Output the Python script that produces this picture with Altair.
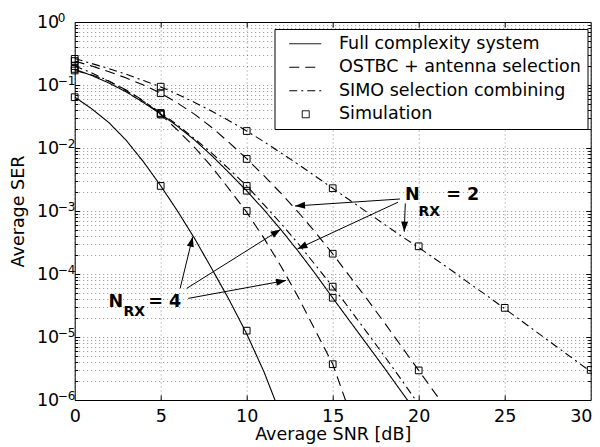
import math
import altair as alt
import pandas as pd

W, H = 516, 378

# ---------------- data ----------------
snr_db = list(range(0, 31))

# log10(SER) of the analytical curves at 1 dB steps
n4_full_log = [-1.19, -1.38, -1.60, -1.88, -2.22, -2.60, -3.01, -3.45, -3.93, -4.42,
               -4.95, -5.55, -6.25]
n4_ostbc_log = [-0.77, -0.84, -0.94, -1.08, -1.25, -1.47, -1.72, -2.00, -2.31, -2.66,
                -3.02, -3.43, -3.88, -4.37, -4.90, -5.43, -6.20]
n4_simo_log = [-0.70, -0.81, -0.94, -1.09, -1.26, -1.44, -1.64, -1.86, -2.09, -2.34,
               -2.60, -2.90, -3.20, -3.52, -3.86, -4.20, -4.56, -4.93, -5.30, -5.68,
               -6.07]
n2_full_log = [-0.75, -0.85, -0.97, -1.11, -1.28, -1.46, -1.66, -1.88, -2.13, -2.40,
               -2.68, -2.98, -3.30, -3.64, -4.00, -4.38, -4.75, -5.12, -5.49, -5.87,
               -6.25]
n2_ostbc_log = [-0.62, -0.70, -0.79, -0.89, -1.00, -1.13, -1.29, -1.47, -1.68, -1.92,
                -2.17, -2.44, -2.72, -3.02, -3.34, -3.68, -4.04, -4.40, -4.77, -5.15,
                -5.53, -5.91, -6.29]
n2_simo_log = [-0.58, -0.66, -0.74, -0.83, -0.93, -1.03, -1.15, -1.28, -1.42, -1.57,
               -1.73, -1.90, -2.08, -2.26, -2.45, -2.64, -2.83, -3.02, -3.21, -3.40,
               -3.58, -3.77, -3.96, -4.16, -4.35, -4.55, -4.75, -4.95, -5.15, -5.35,
               -5.55]

# simulation points (SER) at 0, 5, 10, ... dB
sim_snr = [0, 5, 10, 15, 20, 25, 30]
n4_full_sim = [0.064, 2.5e-3, 1.26e-5]
n4_ostbc_sim = [0.17, 0.034, 1.0e-3, 3.7e-6]
n4_simo_sim = [0.20, 0.036, 2.5e-3, 6.3e-5]
n2_full_sim = [0.18, 0.035, 2.1e-3, 4.2e-5]
n2_ostbc_sim = [0.24, 0.074, 6.7e-3, 2.1e-4, 2.95e-6]
n2_simo_sim = [0.26, 0.094, 0.0186, 2.3e-3, 2.75e-4, 2.9e-5, 3.0e-6]

styles = ["Full complexity system", "OSTBC + antenna selection",
          "SIMO selection combining", "Simulation"]

# axis ticks / labels
x_ticks = [0, 5, 10, 15, 20, 25, 30]
y_major = [1e-6, 1e-5, 1e-4, 1e-3, 1e-2, 1e-1, 1e0]
y_exp_labels = ["\u22126", "\u22125", "\u22124", "\u22123", "\u22122", "\u22121", "0"]
y_minor = [m * 10.0 ** k for k in range(-6, 0) for m in range(2, 10)]

# annotations (x in dB, y as SER)
arrow_x0 = [18.91, 18.80, 19.22, 6.13, 6.51, 6.60]
arrow_ser0 = [1.55e-3, 1.38e-3, 1.32e-3, 5.9e-5, 5.9e-5, 4.1e-5]
arrow_x1 = [12.81, 12.95, 19.16, 6.86, 11.97, 12.29]
arrow_ser1 = [1.2e-3, 2.5e-4, 4.7e-4, 3.9e-4, 5.1e-4, 7.9e-5]

big_text = ["N", "= 2", "N", "= 4"]
big_x = [19.2, 21.6, 1.97, 4.28]
big_ser = [1.8e-3, 1.8e-3, 3.6e-5, 3.6e-5]
sub_text = ["RX", "RX"]
sub_x = [19.99, 2.84]
sub_ser = [9.6e-4, 2.5e-5]

# ---------------- tables ----------------
curve_defs = [("n4_full", styles[0], n4_full_log), ("n4_ostbc", styles[1], n4_ostbc_log),
              ("n4_simo", styles[2], n4_simo_log), ("n2_full", styles[0], n2_full_log),
              ("n2_ostbc", styles[1], n2_ostbc_log), ("n2_simo", styles[2], n2_simo_log)]
rows = []
for cid, st, logs in curve_defs:
    for x, lv in zip(snr_db, logs):
        rows.append({"snr": x, "ser": 10 ** lv, "curve": cid, "style": st})
lines_df = pd.DataFrame(rows)

sim_defs = [("n4_full", n4_full_sim), ("n4_ostbc", n4_ostbc_sim), ("n4_simo", n4_simo_sim),
            ("n2_full", n2_full_sim), ("n2_ostbc", n2_ostbc_sim), ("n2_simo", n2_simo_sim)]
srows = []
for cid, vals in sim_defs:
    for x, v in zip(sim_snr, vals):
        srows.append({"snr": x, "ser": v, "curve": cid, "style": "Simulation"})
sims_df = pd.DataFrame(srows)

legend_df = pd.DataFrame({"snr": [1.0] * 4, "ser": [0.1] * 4, "style": styles})


def to_px(x, ser):
    return x / 30 * W, -math.log10(ser) / 6 * H


angles = []
for a, b, c, d in zip(arrow_x0, arrow_ser0, arrow_x1, arrow_ser1):
    p0, p1 = to_px(a, b), to_px(c, d)
    angles.append(math.degrees(math.atan2(p1[1] - p0[1], p1[0] - p0[0])) % 360)
arrows_df = pd.DataFrame({"x0": arrow_x0, "y0": arrow_ser0, "x1": arrow_x1,
                          "y1": arrow_ser1, "ang": angles})
big_df = pd.DataFrame({"x": big_x, "y": big_ser, "t": big_text})
sub_df = pd.DataFrame({"x": sub_x, "y": sub_ser, "t": sub_text})

# ---------------- styling ----------------
FONT = "DejaVu Sans"
FS = 17.5
xscale = alt.Scale(domain=[0, 30], nice=False, zero=False)
yscale = alt.Scale(type="log", domain=[1e-6, 1], nice=False)
dash_scale = alt.Scale(domain=styles, range=[[1, 0], [10, 6], [8, 4, 2, 4], [1, 0]])
shape_scale = alt.Scale(domain=styles, range=["M0,0H8", "M0,0H8", "M0,0H8",
                                              "M3.25,-0.875H5V0.875H3.25Z"])
legend = alt.Legend(title=None, orient="none", legendX=199.8, legendY=7, padding=6,
                    rowPadding=4.5, labelOffset=41, labelFont=FONT, labelFontSize=FS,
                    labelColor="black", labelLimit=500, symbolSize=64,
                    symbolStrokeWidth=1, symbolStrokeColor="black",
                    symbolFillColor="transparent", strokeColor="black",
                    fillColor="white", cornerRadius=0)

grid_kw = dict(grid=True, gridDash=[1, 3], gridColor="#000", gridOpacity=0.45,
               gridWidth=1)
last_x = x_ticks[-1]
x_main_axis = alt.Axis(values=x_ticks, title="Average SNR [dB]", ticks=False, tickSize=0,
                       labelExpr="datum.value == %d ? '' : datum.label" % last_x,
                       domain=False, labelPadding=7, labelFont=FONT, labelFontSize=FS,
                       labelColor="black", labelFlush=False, labelOverlap=False,
                       titleFont=FONT, titleFontSize=FS, titleFontWeight="normal",
                       titleColor="black", titlePadding=1, format="d", **grid_kw)
# last x label kept inside the page: right-aligned on its tick
x_last_axis = alt.Axis(orient="bottom", values=[last_x], title=None, ticks=False,
                       tickSize=0, domain=False, grid=False, labelPadding=7,
                       labelAlign="right", labelOffset=1.3, labelFont=FONT,
                       labelFontSize=FS, labelColor="black", labelFlush=False,
                       labelOverlap=False, labelBound=False, format="d")
y_main_axis = alt.Axis(values=sorted(y_major + y_minor),
                       labelExpr="abs(log(datum.value)/LN10 - round(log(datum.value)/LN10)) < 1e-6 ? '10' : ''",
                       title="Average SER", ticks=False, tickSize=0, domain=False,
                       labelPadding=16, labelFont=FONT, labelFontSize=FS,
                       labelColor="black", labelFlush=False, labelOverlap=False,
                       titleFont=FONT, titleFontSize=FS, titleFontWeight="normal",
                       titleColor="black", titlePadding=9, **grid_kw)

exp_list = "[" + ",".join("'%s'" % s for s in y_exp_labels) + "]"
y_exp_axis = alt.Axis(orient="left", values=y_major,
                      labelExpr=exp_list + "[round(log(datum.value)/LN10)+6]",
                      labelAlign="left", labelPadding=17.5, labelOffset=-5,
                      labelFont=FONT, labelFontSize=12, labelColor="black",
                      ticks=False, tickSize=0, domain=False, grid=False, title=None,
                      labelFlush=False, labelOverlap=False, labelBound=False)

# ---------------- layers ----------------
lines = alt.Chart(lines_df).mark_line(color="black", strokeWidth=1.1, clip=True).encode(
    x=alt.X("snr:Q", scale=xscale, axis=x_main_axis),
    y=alt.Y("ser:Q", scale=yscale, axis=y_main_axis),
    detail="curve:N",
    strokeDash=alt.StrokeDash("style:N", scale=dash_scale, legend=legend),
)

sims = alt.Chart(sims_df).mark_point(shape="square", filled=False, size=45, color="black",
                                     strokeWidth=1, opacity=1).encode(
    x=alt.X("snr:Q", scale=xscale, axis=None),
    y=alt.Y("ser:Q", scale=yscale, axis=None),
)

legend_layer = alt.Chart(legend_df).transform_filter("false").mark_point(
    filled=False, size=64, color="black", strokeWidth=1, opacity=1).encode(
    x=alt.X("snr:Q", scale=xscale, axis=None),
    y=alt.Y("ser:Q", scale=yscale, axis=None),
    shape=alt.Shape("style:N", scale=shape_scale, legend=legend),
    strokeDash=alt.StrokeDash("style:N", scale=dash_scale, legend=legend),
)

exp_layer = alt.Chart(sims_df).transform_filter("false").mark_point().encode(
    x=alt.X("snr:Q", scale=xscale, axis=x_last_axis),
    y=alt.Y("ser:Q", scale=yscale, axis=y_exp_axis),
)


def tick_layer(channel, orient, values, size):
    ax = alt.Axis(orient=orient, values=values, offset=-size, tickSize=size, ticks=True,
                  tickColor="black", tickWidth=1, labels=False, domain=False,
                  grid=False, title=None)
    return alt.Chart(sims_df).transform_filter("false").mark_point().encode(
        x=alt.X("snr:Q", scale=xscale, axis=ax if channel == "x" else None),
        y=alt.Y("ser:Q", scale=yscale, axis=ax if channel == "y" else None),
    )


tick_layers = [
    tick_layer("x", "bottom", x_ticks[1:-1], 5),
    tick_layer("x", "top", x_ticks[1:-1], 5),
    tick_layer("y", "left", y_major[1:-1], 5),
    tick_layer("y", "left", y_minor, 3),
    tick_layer("y", "right", y_major[1:-1], 5),
    tick_layer("y", "right", y_minor, 3),
]

arrow_lines = alt.Chart(arrows_df).mark_rule(color="black", strokeWidth=1).encode(
    x=alt.X("x0:Q", scale=xscale, axis=None), y=alt.Y("y0:Q", scale=yscale, axis=None),
    x2="x1:Q", y2="y1:Q",
)
arrow_heads = alt.Chart(arrows_df).mark_point(
    shape="M0,0L-2,-0.7L-2,0.7Z", filled=True, size=100, color="black",
    opacity=1).encode(
    x=alt.X("x1:Q", scale=xscale, axis=None), y=alt.Y("y1:Q", scale=yscale, axis=None),
    angle=alt.Angle("ang:Q", scale=None),
)
big_labels = alt.Chart(big_df).mark_text(font=FONT, fontSize=17.5, fontWeight="bold",
                                         align="left", baseline="middle",
                                         color="black").encode(
    x=alt.X("x:Q", scale=xscale, axis=None), y=alt.Y("y:Q", scale=yscale, axis=None),
    text="t:N",
)
sub_labels = alt.Chart(sub_df).mark_text(font=FONT, fontSize=14, fontWeight="bold",
                                         align="left", baseline="middle",
                                         color="black").encode(
    x=alt.X("x:Q", scale=xscale, axis=None), y=alt.Y("y:Q", scale=yscale, axis=None),
    text="t:N",
)

chart = alt.layer(
    lines, sims, legend_layer, exp_layer, *tick_layers,
    arrow_lines, arrow_heads, big_labels, sub_labels,
).resolve_axis(x="independent", y="independent").properties(
    width=W, height=H,
    autosize=alt.AutoSizeParams(type="none"),
    padding={"left": 66.7, "top": 14, "right": 1.3, "bottom": 46},
).configure_view(stroke="black", strokeWidth=1)

chart.save("out.html", embed_options={"renderer": "svg", "actions": False})
